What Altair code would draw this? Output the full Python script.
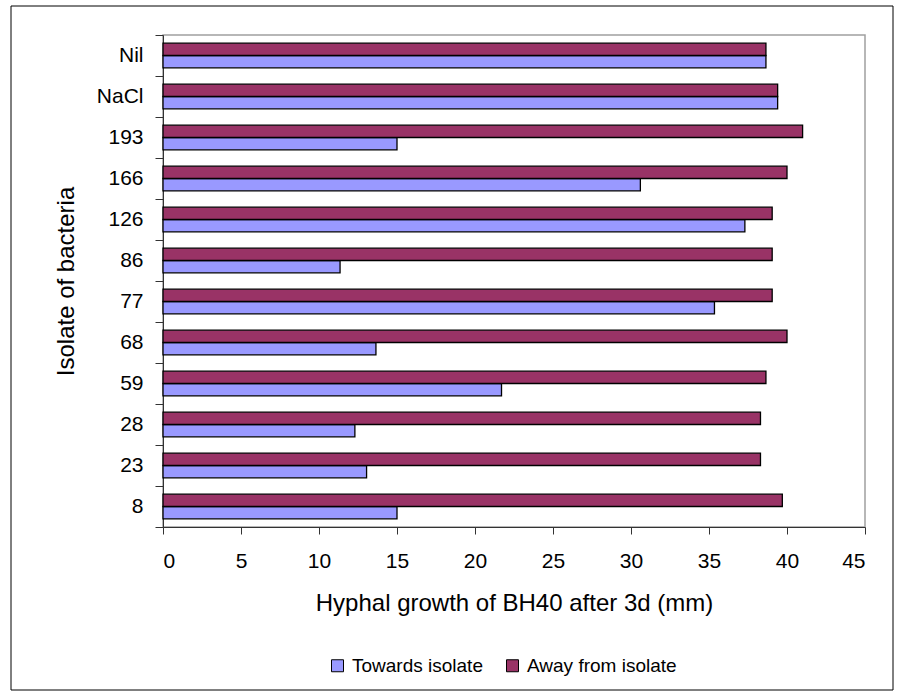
import altair as alt
import pandas as pd

# Isolates listed top to bottom as they appear on the category axis
isolates = ["Nil", "NaCl", "193", "166", "126", "86", "77", "68", "59", "28", "23", "8"]
towards = [38.65, 39.4, 15.0, 30.6, 37.3, 11.35, 35.35, 13.65, 21.7, 12.3, 13.05, 15.0]
away = [38.65, 39.4, 41.0, 40.0, 39.05, 39.05, 39.05, 40.0, 38.65, 38.3, 38.3, 39.7]
series = ["Towards isolate", "Away from isolate"]
colors = ["#9999FF", "#993366"]

rows = []
for iso, t, a in zip(isolates, towards, away):
    rows.append({"isolate": iso, "series": series[0], "growth": t})
    rows.append({"isolate": iso, "series": series[1], "growth": a})
df = pd.DataFrame(rows)

FONT = "Liberation Sans"

bars = alt.Chart(df).mark_bar(stroke="black", strokeWidth=1.3).encode(
    x=alt.X(
        "growth:Q",
        scale=alt.Scale(domain=[0, 45], nice=False),
        axis=alt.Axis(
            values=list(range(0, 46, 5)),
            title="Hyphal growth of BH40 after 3d (mm)",
            grid=False,
            domainColor="#333333",
            tickColor="#333333",
            tickSize=7,
            labelPadding=16,
            labelFontSize=21,
            titleFontSize=24,
            titleFontWeight="normal",
            titlePadding=20,
            labelFont=FONT,
            titleFont=FONT,
            labelColor="black",
            titleColor="black",
        ),
    ),
    y=alt.Y(
        "isolate:N",
        sort=isolates,
        scale=alt.Scale(paddingInner=0, paddingOuter=0),
        axis=alt.Axis(
            title="Isolate of bacteria",
            tickBand="extent",
            domainColor="#333333",
            tickColor="#333333",
            tickSize=8,
            labelPadding=12,
            labelFontSize=21,
            titleFontSize=24,
            titleFontWeight="normal",
            titlePadding=18,
            labelFont=FONT,
            titleFont=FONT,
            labelColor="black",
            titleColor="black",
        ),
    ),
    yOffset=alt.YOffset(
        "series:N",
        sort=[series[1], series[0]],
        scale=alt.Scale(paddingInner=0, paddingOuter=0.67),
    ),
    color=alt.Color(
        "series:N",
        scale=alt.Scale(domain=series, range=colors),
        legend=alt.Legend(
            title=None,
            orient="none",
            legendX=165,
            legendY=621,
            direction="horizontal",
            symbolType="square",
            symbolSize=144,
            symbolStrokeColor="black",
            symbolStrokeWidth=1,
            labelFontSize=19,
            labelFont=FONT,
            labelColor="black",
            labelOffset=5,
            columnPadding=20,
            symbolOffset=0,
        ),
    ),
)

# Outer chart-area frame
frame = alt.Chart(pd.DataFrame({"k": [0]})).mark_rect(
    fill=None, stroke="black", strokeWidth=1
).encode(
    x=alt.value(-152), x2=alt.value(730), y=alt.value(-29), y2=alt.value(655)
)

chart = alt.layer(frame, bars).properties(
    width=702,
    height=492,
    autosize=alt.AutoSizeParams(type="none"),
    padding={"left": 163, "top": 35, "right": 36, "bottom": 173},
    background="white",
).configure_view(stroke="#a0a0a0", strokeWidth=1.5)

chart.save("out.html", embed_options={"renderer": "svg", "actions": False})
